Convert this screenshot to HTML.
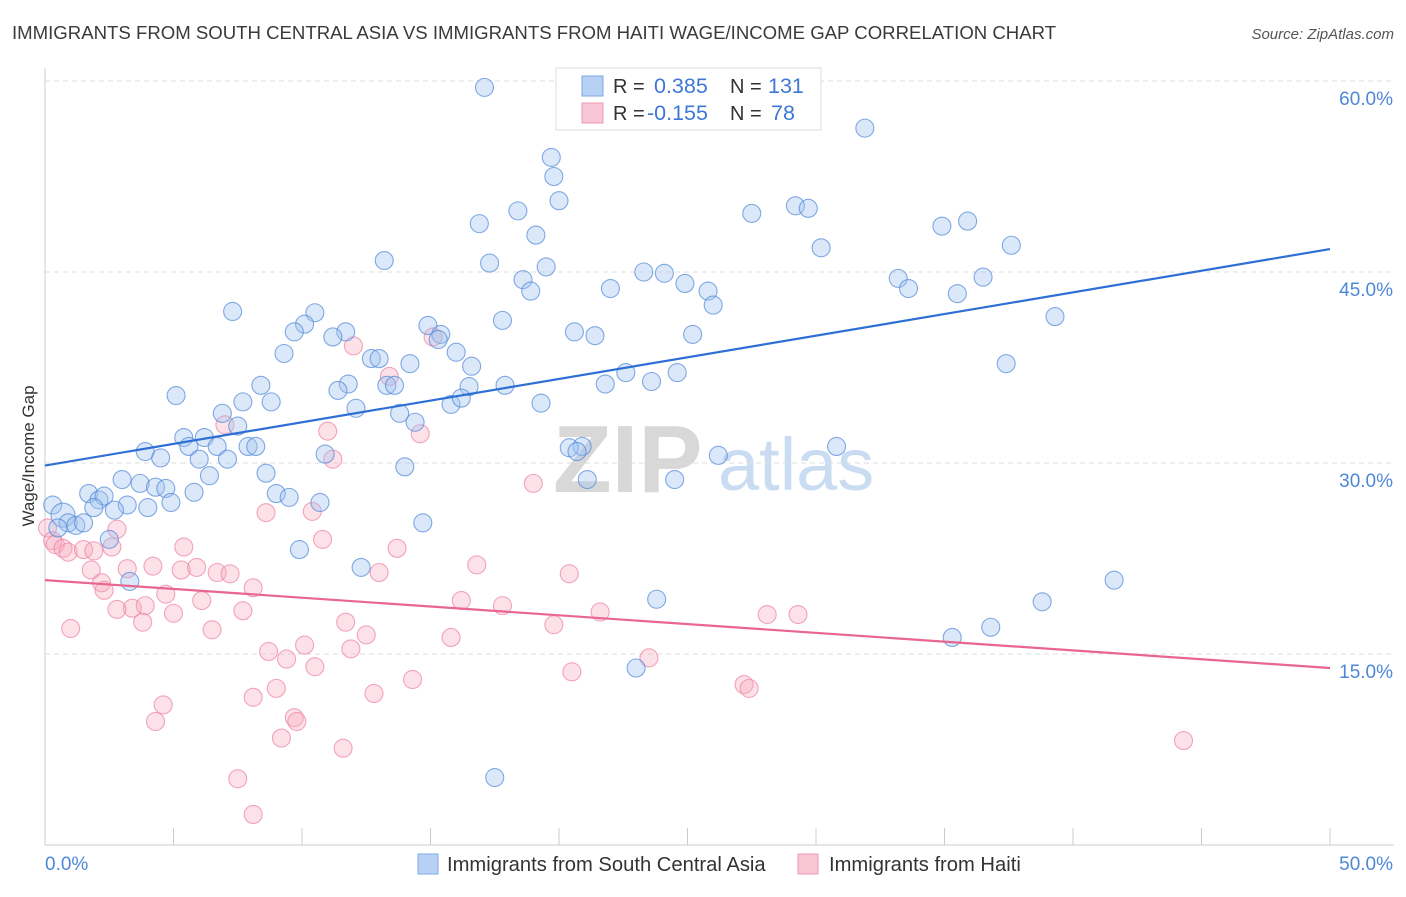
<!DOCTYPE html>
<html><head><meta charset="utf-8"><style>
body{margin:0;background:#fff;font-family:"Liberation Sans",sans-serif;}
svg text{font-family:"Liberation Sans",sans-serif;}
</style></head><body>
<svg id="chart" width="1406" height="892" viewBox="0 0 1406 892" xmlns="http://www.w3.org/2000/svg">
<text x="12" y="39" font-size="18.6" fill="#3a3a3a">IMMIGRANTS FROM SOUTH CENTRAL ASIA VS IMMIGRANTS FROM HAITI WAGE/INCOME GAP CORRELATION CHART</text>
<text x="1394" y="39" font-size="15" fill="#555" font-style="italic" text-anchor="end">Source: ZipAtlas.com</text>
<text transform="translate(34,456) rotate(-90)" font-size="17" fill="#333" text-anchor="middle">Wage/Income Gap</text>
<g>
<text x="553" y="492" font-size="96" font-family="Liberation Serif,serif" fill="#d8d8d8" font-weight="bold">ZIP</text>
<text x="718" y="490" font-size="74" fill="#c9dcf2">atlas</text>
</g>
<g id="grid"></g>
<g id="axes"></g>
<g id="pts"></g>
<g id="trend"></g>
<g>
<rect x="556" y="68" width="265" height="62" fill="#fff" stroke="#ddd"/>
<rect x="582" y="76" width="21" height="20" fill="#b7d1f5" stroke="#7ea7e6"/>
<rect x="582" y="103" width="21" height="20" fill="#f9c6d5" stroke="#ee98b3"/>
<text x="613" y="93" font-size="20" fill="#333">R =</text>
<text x="654" y="93" font-size="21.5" fill="#3d78d6">0.385</text>
<text x="730" y="93" font-size="20" fill="#333">N =</text>
<text x="768" y="93" font-size="21.5" fill="#3d78d6">131</text>
<text x="613" y="120" font-size="20" fill="#333">R =</text>
<text x="647" y="120" font-size="21.5" fill="#3d78d6">-0.155</text>
<text x="730" y="120" font-size="20" fill="#333">N =</text>
<text x="771" y="120" font-size="21.5" fill="#3d78d6">78</text>
</g>
<g>
<rect x="418" y="854" width="20" height="20" fill="#b7d1f5" stroke="#7ea7e6"/>
<text x="447" y="871" font-size="20.2" fill="#333">Immigrants from South Central Asia</text>
<rect x="798" y="854" width="20" height="20" fill="#f9c6d5" stroke="#ee98b3"/>
<text x="829" y="871" font-size="20.2" fill="#333">Immigrants from Haiti</text>
</g>
</svg>
<script>
const yTicks=[15,30,45,60];
const yTickLabels=["15.0%","30.0%","45.0%","60.0%"];
const xTickValues=[0,5,10,15,20,25,30,35,40,45,50];
const xEndLabels=["0.0%","50.0%"];
const blueX=[17.1,31.9,19.7,19.8,20.0,18.4,16.9,27.5,29.2,29.7,34.9,35.9,19.1,37.6,30.2,13.2,17.3,19.5,18.6,18.9,23.3,24.1,24.9,22.0,25.8,26.0,33.2,33.6,36.5,35.5,7.3,10.5,10.1,9.7,11.7,11.2,14.9,15.4,15.3,17.8,20.6,21.4,25.2,39.3,9.3,12.7,13.0,16.0,14.2,16.6,22.6,24.6,23.6,21.8,37.4,8.4,11.8,11.4,13.3,13.6,16.5,17.9,5.1,7.7,8.8,12.1,13.8,15.8,16.2,19.3,6.9,14.4,7.5,5.4,6.2,5.6,7.9,8.2,3.9,4.5,6.7,6.0,7.1,10.9,20.9,20.4,20.7,30.8,26.2,14.0,8.6,3.0,6.4,3.7,4.3,4.7,1.7,2.1,2.3,9.0,9.5,10.7,21.1,24.5,5.8,4.9,3.2,4.0,2.7,1.9,0.3,0.7,0.9,1.2,1.5,0.5,14.7,9.9,2.5,12.3,3.3,41.6,23.8,38.8,36.8,35.3,23.0,17.5];
const blueY=[59.5,56.3,54.0,52.5,50.6,49.8,48.8,49.6,50.2,50.0,48.6,49.0,47.9,47.1,46.9,45.9,45.7,45.4,44.4,43.5,45.0,44.9,44.1,43.7,43.5,42.4,44.5,43.7,44.6,43.3,41.9,41.8,40.9,40.3,40.3,39.9,40.8,40.1,39.7,41.2,40.3,40.0,40.1,41.5,38.6,38.2,38.2,38.7,37.8,37.6,37.1,37.1,36.4,36.2,37.8,36.1,36.2,35.7,36.1,36.1,36.0,36.1,35.3,34.8,34.8,34.3,33.9,34.6,35.1,34.7,33.9,33.2,32.9,32.0,32.0,31.3,31.3,31.3,30.9,30.4,31.3,30.3,30.3,30.7,31.3,31.2,30.9,31.3,30.6,29.7,29.2,28.7,29.0,28.4,28.1,28.0,27.6,27.1,27.4,27.6,27.3,26.9,28.7,28.7,27.7,26.9,26.7,26.5,26.3,26.5,26.7,25.9,25.3,25.1,25.3,24.9,25.3,23.2,24.0,21.8,20.7,20.8,19.3,19.1,17.1,16.3,13.9,5.3];
const pinkX=[0.1,0.3,0.4,0.7,0.9,1.5,1.9,2.8,2.6,3.2,1.8,2.2,2.3,3.4,3.8,3.9,4.2,4.7,5.0,5.4,5.3,5.9,6.1,6.5,6.7,7.2,7.0,7.7,8.1,8.6,8.1,7.5,8.1,8.7,9.0,9.4,9.2,9.7,9.8,10.1,10.5,10.4,10.8,11.0,11.2,11.7,11.9,12.5,11.6,12.8,12.0,13.0,13.4,13.7,14.6,15.1,14.3,15.8,16.2,16.8,17.8,19.0,19.8,20.4,20.5,21.6,23.5,27.2,27.4,28.1,29.3,44.3,1.0,4.6,4.3,2.8];
const pinkY=[24.9,23.9,23.6,23.3,23.0,23.2,23.1,24.8,23.4,21.7,21.6,20.6,20.0,18.6,17.5,18.8,21.9,19.7,18.2,23.4,21.6,21.8,19.2,16.9,21.4,21.3,33.0,18.4,20.2,26.1,11.6,5.2,2.4,15.2,12.3,14.6,8.4,10.0,9.7,15.7,14.0,26.2,24.0,32.5,30.3,17.5,15.4,16.5,7.6,11.9,39.2,21.4,36.8,23.3,32.3,39.9,13.0,16.3,19.2,22.0,18.8,28.4,17.3,21.3,13.6,18.3,14.7,12.6,12.3,18.1,18.1,8.2,17.0,11.0,9.7,18.5];
const blueTrend=[29.8,46.8];
const pinkTrend=[20.8,13.9];

const NS="http://www.w3.org/2000/svg";
const X0=45,X1=1330,YB=845,PXPER=191/15;
const sx=v=>X0+(v/50)*(X1-X0);
const sy=v=>YB-v*PXPER;
function mk(tag,attrs,parent){const e=document.createElementNS(NS,tag);for(const k in attrs)e.setAttribute(k,attrs[k]);document.getElementById(parent).appendChild(e);return e;}

mk('line',{x1:45,y1:68,x2:45,y2:845,stroke:'#ccc'},'axes');
mk('line',{x1:45,y1:845,x2:1394,y2:845,stroke:'#ccc'},'axes');
yTicks.forEach((t,i)=>{
  const g=mk('line',{x1:45,x2:1394,y1:sy(t),y2:sy(t),stroke:'#ddd','stroke-dasharray':'5,4'},'grid');
  
  
  const tx=mk('text',{x:1393,y:sy(t)+24,'font-size':19,fill:'#4f87d8','text-anchor':'end'},'axes');
  tx.textContent=yTickLabels[i];
  
  
});
xTickValues.forEach(v=>{
  const l=mk('line',{x1:sx(v),x2:sx(v),y1:828,y2:845,stroke:'#ccc'},'axes');
  
  
});
let t0=mk('text',{x:45,y:870,'font-size':19,fill:'#4f87d8'},'axes');t0.textContent=xEndLabels[0];

let t1=mk('text',{x:1393,y:870,'font-size':19,fill:'#4f87d8','text-anchor':'end'},'axes');t1.textContent=xEndLabels[1];


pinkX.forEach((v,i)=>{
  const c=mk('circle',{cx:sx(v),cy:sy(pinkY[i]),r:9,fill:'rgba(246,168,192,0.35)',stroke:'rgba(236,130,163,0.7)','stroke-width':1.1},'pts');
  
  
});
blueX.forEach((v,i)=>{
  const r=(i==blueX.length-17)?12:9;
  const c=mk('circle',{cx:sx(v),cy:sy(blueY[i]),r:r,fill:'rgba(160,195,240,0.38)',stroke:'rgba(80,135,215,0.7)','stroke-width':1.1},'pts');
  
  
});
const bl=mk('line',{x1:sx(0),y1:sy(blueTrend[0]),x2:sx(50),y2:sy(blueTrend[1]),stroke:'#2e6fd6','stroke-width':2.2},'trend');


const pl=mk('line',{x1:sx(0),y1:sy(pinkTrend[0]),x2:sx(50),y2:sy(pinkTrend[1]),stroke:'#e8668f','stroke-width':2.2},'trend');


</script>
</body></html>
